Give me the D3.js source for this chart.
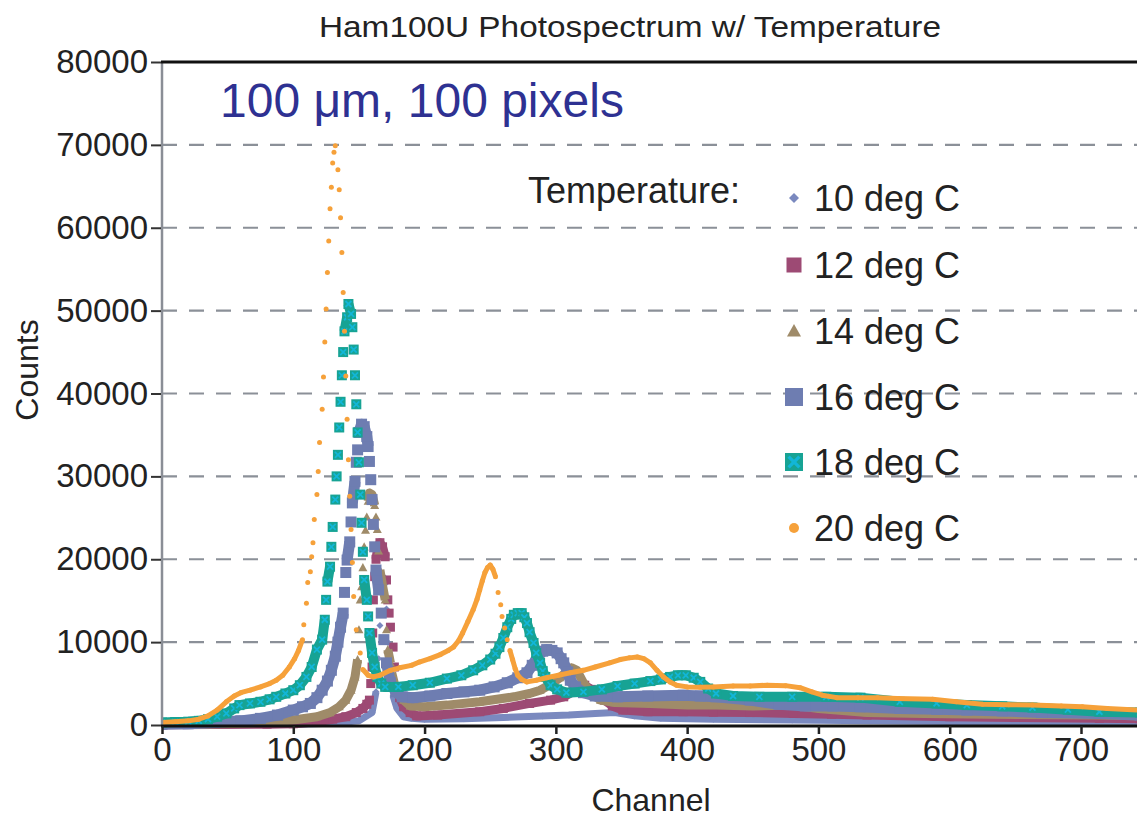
<!DOCTYPE html>
<html><head><meta charset="utf-8">
<script src="https://cdn.jsdelivr.net/npm/d3@7"></script>
<style>
body{margin:0;background:#fff;}
svg{display:block;font-family:"Liberation Sans",Arial,Helvetica,sans-serif;}
</style>
</head><body>
<svg id="chart" width="1137" height="817"></svg>
<script>
// ---------- data ----------
const xTicks = [0, 100, 200, 300, 400, 500, 600, 700];
const yTicks = [0, 10000, 20000, 30000, 40000, 50000, 60000, 70000, 80000];
const titleText = "Ham100U Photospectrum w/ Temperature";
const noteText = "100 \u03bcm, 100 pixels";
const legendTitle = "Temperature:";
const seriesNames = ["10 deg C", "12 deg C", "14 deg C", "16 deg C", "18 deg C", "20 deg C"];

// [channel, counts]
const deg10 = [[0,20],[50,40],[100,80],[130,200],[150,500],[160,1500],[163,4000],[165,8000],[166,12000],[167,16000],[168,18000],[170,17000],[171,14000],[172,10000],[174,6000],[176,3500],[179,2000],[184,1000],[190,800],[200,700],[230,750],[260,900],[290,1100],[310,1200],[330,1400],[345,1500],[360,1100],[380,800],[420,700],[480,600],[540,500],[620,400],[700,350],[745,300]];

const deg12 = [[0,30],[40,60],[80,100],[100,150],[118,400],[130,700],[140,1000],[148,1500],[153,2000],[156,2500],[158,3000],[159,5000],[160,7000],[160.5,11100],[161,15100],[162,17900],[163,20000],[164,21000],[166,22000],[168,21500],[170,20300],[171,17500],[172,15100],[173,13500],[174,11800],[176,9400],[177,7000],[179,4600],[181,3300],[184,2200],[189,1500],[194,1100],[210,1200],[242,1600],[260,2000],[280,2600],[296,3000],[306,3400],[313,4000],[318,4700],[322,4800],[327,4300],[332,3600],[337,3000],[343,2300],[351,1800],[370,1600],[397,1600],[420,1550],[448,1500],[481,1400],[510,1300],[537,1200],[600,1000],[650,900],[714,800],[745,750]];

const deg14 = [[0,50],[30,100],[60,200],[80,350],[100,600],[118,1000],[128,1500],[135,2200],[140,3000],[144,4200],[147,5800],[149,7900],[150,11500],[151,15100],[152,16700],[153,19000],[154,21500],[155,23500],[156,25100],[157,27000],[158,28000],[160,27800],[162,26500],[163,25100],[164,23600],[165,21000],[166,18700],[168,16800],[170,15100],[171,11500],[172,9100],[174,7500],[175,6300],[177,5000],[179,4200],[184,3000],[189,2300],[200,2200],[217,2400],[242,2800],[268,3400],[280,3800],[288,4200],[296,4900],[303,5700],[308,6400],[312,6900],[316,6600],[321,5100],[326,4000],[334,3000],[345,2700],[372,2600],[400,2400],[422,2400],[450,2300],[481,2400],[500,2000],[537,1500],[580,1400],[630,1300],[714,1200],[745,1100]];

const deg16 = [[0,100],[20,150],[40,300],[60,500],[75,800],[88,1200],[100,1800],[107,2200],[113,2600],[118,3300],[122,4200],[126,5300],[129,6600],[132,8300],[134,10000],[136,11800],[138,13500],[139,16000],[140,18400],[141,19900],[143,22100],[144,24500],[145,26800],[147,29400],[148,31700],[149,33200],[150,35300],[152,36300],[154,36000],[156,34800],[157,33600],[158,31800],[159,29600],[160,27200],[161,24200],[162,21500],[163,18700],[165,16300],[167,13500],[169,10300],[171,7500],[174,5100],[178,4000],[183,3400],[191,3300],[204,3500],[217,3800],[230,4000],[242,4200],[253,4600],[263,5100],[271,5700],[278,6300],[282,7200],[286,8200],[290,8900],[293,9100],[297,9000],[301,8700],[304,8000],[306,7500],[309,6400],[311,5400],[315,4600],[321,3900],[330,3500],[347,3400],[370,3500],[397,3600],[410,3500],[422,3400],[448,3000],[470,2500],[490,2300],[511,2300],[532,2200],[562,2000],[590,1900],[613,1800],[640,1700],[670,1500],[714,1400],[745,1200]];

const deg18 = [[0,300],[10,350],[20,400],[28,500],[35,700],[42,1000],[49,1400],[55,2000],[59,2400],[67,2600],[75,2800],[82,3100],[87,3400],[94,3800],[100,4200],[105,4800],[110,5800],[114,7000],[118,9100],[122,10300],[124,12700],[125,15100],[126,17300],[128,19100],[129,21500],[130,23900],[132,27200],[133,30000],[134,32600],[135,35900],[136,39000],[137,42200],[138,45000],[139,47500],[141,49200],[142,50800],[144,49600],[145,48000],[146,45300],[147,42200],[148,38700],[149,35300],[150,31700],[151,27800],[152,24400],[153,20900],[154,17500],[156,15100],[157,13100],[158,11100],[160,8700],[162,7000],[164,5800],[167,5000],[170,4600],[180,4600],[191,4800],[204,5100],[217,5600],[228,6000],[237,6600],[244,7200],[250,7900],[254,8600],[257,9400],[260,10500],[263,11800],[266,12800],[268,13300],[271,13500],[274,13500],[276,13000],[278,12300],[280,11200],[283,9900],[285,8700],[288,7500],[290,6500],[292,5800],[296,4800],[301,4300],[308,3900],[321,4000],[335,4300],[347,4700],[360,5000],[372,5300],[380,5500],[387,5800],[393,6000],[399,6000],[405,5700],[410,5200],[416,4400],[422,3800],[435,3500],[455,3400],[480,3400],[506,3400],[532,3300],[562,2800],[590,2600],[613,2400],[640,2250],[663,2100],[690,1850],[714,1600],[745,1500]];

const deg20 = [[0,300],[10,400],[20,500],[28,700],[35,1100],[42,1800],[49,2800],[55,3500],[60,3900],[67,4200],[75,4600],[82,5000],[87,5400],[92,6000],[97,7000],[101,8000],[104,9000],[107,10300],[108,12100],[110,14700],[111,17200],[113,18500],[114,20300],[115,22000],[116,24800],[118,27800],[119,30600],[120,34100],[122,38100],[123,42000],[124,46200],[125,50200],[126,54600],[127,58400],[128,62300],[129,64900],[130,67800],[131,69100],[132,69900],[134,67000],[135,64600],[136,61200],[137,57000],[138,52200],[139,47500],[140,42100],[141,36900],[142,32000],[143,27600],[144,23600],[145,19600],[146,15500],[148,11500],[151,8700],[153,6700],[157,6000],[161,5800],[166,6000],[174,6600],[181,6900],[190,7200],[196,7600],[204,8000],[212,8500],[218,9000],[222,9400],[226,10200],[229,11100],[233,12500],[237,13900],[240,15200],[242,16300],[244,17400],[246,18400],[248,19000],[250,19300],[252,18800],[254,17900],[256,16000],[258,14500],[259,13100],[261,11700],[263,10300],[265,9000],[267,7900],[269,6800],[271,6000],[274,5500],[278,5200],[285,5400],[293,5700],[302,6000],[311,6300],[321,6600],[330,7000],[341,7500],[349,7900],[356,8100],[362,8200],[367,8000],[372,7500],[377,6600],[382,5800],[387,5200],[392,4800],[400,4600],[410,4550],[420,4600],[435,4700],[448,4700],[461,4800],[475,4750],[486,4500],[495,4000],[503,3600],[514,3300],[530,3300],[545,3300],[560,3200],[587,3100],[605,2800],[625,2500],[645,2450],[663,2400],[685,2300],[701,2200],[720,2000],[745,1800]];

const seriesData = [deg10, deg12, deg14, deg16, deg18, deg20];

// ---------- styles ----------
const styles = [
  {color:"#7a89bf", shape:"diamond",  size:7,  legSize:10},
  {color:"#9d4a74", shape:"square",   size:9,  legSize:15},
  {color:"#9f8b69", shape:"triangle", size:9,  legSize:14},
  {color:"#6e7db1", shape:"square",   size:11, legSize:18},
  {color:"#17a394", shape:"squareX",  size:10, legSize:18, inner:"#12b6d8"},
  {color:"#f6a13a", shape:"circle",   size:5,  legSize:10}
];

const svg = d3.select("#chart");
const x = d3.scaleLinear().domain([0, 700]).range([162, 1081]);
const y = d3.scaleLinear().domain([0, 80000]).range([725, 62]);
const plotRight = 1137;

// clip
svg.append("defs").append("clipPath").attr("id","plotclip")
  .append("rect").attr("x",162).attr("y",40).attr("width",plotRight-162).attr("height",690);

// gridlines
svg.append("g").selectAll("line").data(yTicks.filter(d => d > 0 && d < 80000)).join("line")
  .attr("x1", 162).attr("x2", plotRight)
  .attr("y1", d => y(d)).attr("y2", d => y(d))
  .attr("stroke", "#8b9098").attr("stroke-width", 2.2)
  .attr("stroke-dasharray", "15,12");

// title
svg.append("text").attr("x", 630).attr("y", 37).attr("text-anchor","middle")
  .attr("font-size", 29).attr("fill", "#222")
  .attr("textLength", 622).attr("lengthAdjust","spacingAndGlyphs")
  .text(titleText);

// annotation
svg.append("text").attr("x", 220).attr("y", 117)
  .attr("font-size", 48).attr("fill", "#2e3192")
  .text(noteText);

// marker drawer
function marker(g, st, cx, cy, s) {
  const h = s / 2;
  if (st.shape === "square") {
    g.append("rect").attr("x", cx - h).attr("y", cy - h).attr("width", s).attr("height", s).attr("fill", st.color);
  } else if (st.shape === "squareX") {
    g.append("rect").attr("x", cx - h).attr("y", cy - h).attr("width", s).attr("height", s).attr("fill", st.color);
    const k = h * 0.6;
    g.append("path").attr("d", `M${cx-k},${cy-k}L${cx+k},${cy+k}M${cx+k},${cy-k}L${cx-k},${cy+k}`)
      .attr("stroke", st.inner).attr("stroke-width", Math.max(1.5, s*0.18));
  } else if (st.shape === "diamond") {
    g.append("path").attr("d", `M${cx},${cy-h}L${cx+h},${cy}L${cx},${cy+h}L${cx-h},${cy}Z`).attr("fill", st.color);
  } else if (st.shape === "triangle") {
    g.append("path").attr("d", `M${cx},${cy-h}L${cx+h},${cy+h*0.8}L${cx-h},${cy+h*0.8}Z`).attr("fill", st.color);
  } else {
    g.append("circle").attr("cx", cx).attr("cy", cy).attr("r", h).attr("fill", st.color);
  }
}

// series: one marker per channel in the source, so markers merge into a band
// wherever the per-channel step (in px) is smaller than the marker itself
const plotG = svg.append("g").attr("clip-path", "url(#plotclip)");
const line = d3.line().x(d => x(d[0])).y(d => y(d[1]));
seriesData.forEach((data, i) => {
  const st = styles[i];
  const g = plotG.append("g");
  const runs = [];
  let cur = [data[0]];
  for (let k = 1; k < data.length; k++) {
    const dyPx = Math.abs(y(data[k][1]) - y(data[k-1][1]));
    const dCh = Math.max(1, data[k][0] - data[k-1][0]);
    if (dyPx / dCh < st.size * 1.05) { cur.push(data[k]); }
    else { runs.push(cur); cur = [data[k]]; }
  }
  runs.push(cur);
  runs.filter(r => r.length > 1).forEach(r => {
    g.append("path").attr("d", line(r)).attr("fill","none")
      .attr("stroke", st.color).attr("stroke-width", st.size)
      .attr("stroke-linejoin","round");
  });
  data.forEach(d => marker(g, st, x(d[0]), y(d[1]), st.size));
});

// axes lines
svg.append("line").attr("x1",162).attr("x2",162).attr("y1",62).attr("y2",726)
  .attr("stroke","#8a8e96").attr("stroke-width",2.5);
svg.append("line").attr("x1",161).attr("x2",plotRight).attr("y1",62).attr("y2",62)
  .attr("stroke","#111").attr("stroke-width",3);
svg.append("line").attr("x1",161).attr("x2",plotRight).attr("y1",726).attr("y2",726)
  .attr("stroke","#111").attr("stroke-width",3);

// y axis
const yAxis = d3.axisLeft(y).tickValues(yTicks).tickSize(10).tickPadding(3).tickFormat(d3.format("d"));
const yg = svg.append("g").attr("transform","translate(161,0)").call(yAxis);
yg.select(".domain").remove();
yg.selectAll(".tick line").attr("stroke","#333").attr("stroke-width",2);
yg.selectAll(".tick text").attr("font-size",33).attr("fill","#222").attr("font-family","Liberation Sans, Arial, sans-serif");

// x axis
const xAxis = d3.axisBottom(x).tickValues(xTicks).tickSize(8).tickPadding(4).tickFormat(d3.format("d"));
const xg = svg.append("g").attr("transform","translate(0,726)").call(xAxis);
xg.select(".domain").remove();
xg.selectAll(".tick line").attr("stroke","#222").attr("stroke-width",2.5);
xg.selectAll(".tick text").attr("font-size",33).attr("fill","#222").attr("font-family","Liberation Sans, Arial, sans-serif");

// axis titles
svg.append("text").attr("x", 651).attr("y", 811).attr("text-anchor","middle")
  .attr("font-size", 32).attr("fill","#222").text("Channel");
svg.append("text").attr("transform","translate(38,370) rotate(-90)").attr("text-anchor","middle")
  .attr("font-size", 32).attr("fill","#222").text("Counts");

// legend
const leg = svg.append("g");
leg.append("text").attr("x", 528).attr("y", 203).attr("font-size", 36).attr("fill","#222").text(legendTitle);
const rowY = [198, 265, 331, 397, 462, 528];
seriesNames.forEach((name, i) => {
  const st = styles[i];
  marker(leg, st, 794, rowY[i], st.legSize);
  leg.append("text").attr("x", 814).attr("y", rowY[i] + 13).attr("font-size", 36).attr("fill","#222").text(name);
});
</script>
</body></html>
